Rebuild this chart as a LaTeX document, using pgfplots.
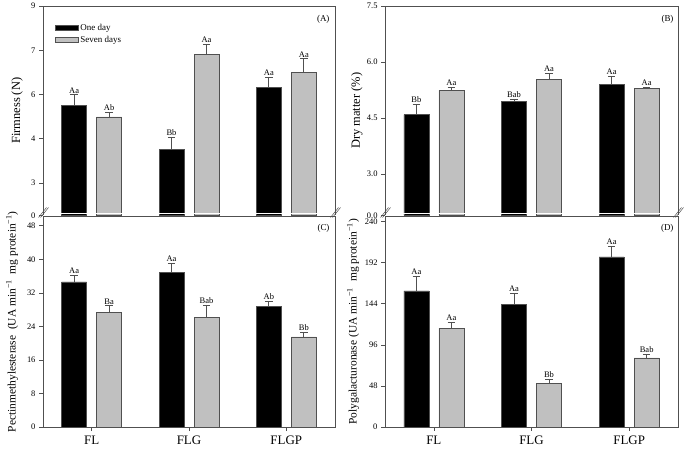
\documentclass[border=0pt]{standalone}
\usepackage{pgfplots}
\pgfplotsset{compat=1.18}
\usepackage{fontspec}
\setmainfont{Liberation Serif}
\definecolor{axgray}{RGB}{80,80,80}
\definecolor{bargray}{RGB}{192,192,192}
\pgfplotsset{
  panel/.style={
    scale only axis, xmin=-0.5, xmax=2.5, ybar,
    tick align=outside, ytick pos=left, xtick pos=bottom,
    axis line style={axgray, line width=0.8bp},
    major tick length=4bp,
    every tick/.style={axgray, line width=0.6bp},
    tick label style={font=\fontsize{8.5}{10}\selectfont},
    /pgf/number format/assume math mode=true,
    ylabel style={anchor=center},
  },
  top/.style={axis line style={draw=none}, xtick=\empty},
  bot/.style={xtick={0,1,2}, xticklabels={FL,FLG,FLGP},
    xticklabel style={font=\fontsize{13}{15}\selectfont, yshift=-1bp}},
  one/.style={fill=black, draw=axgray, line width=0.5bp, bar width=25bp, bar shift=-17.5bp,
    legend image code/.code={\draw[##1] (0bp,-2.3bp) rectangle (23bp,2.3bp);},
    error bars/.cd, y dir=plus, y explicit,
    error bar style={axgray, line width=0.7bp},
    error mark options={rotate=90, mark size=3.7bp, axgray, line width=0.7bp}},
  seven/.style={fill=bargray, draw=axgray, line width=0.5bp, bar width=25bp, bar shift=17.5bp,
    legend image code/.code={\draw[##1] (0bp,-2.3bp) rectangle (23bp,2.3bp);},
    error bars/.cd, y dir=plus, y explicit,
    error bar style={axgray, line width=0.7bp},
    error mark options={rotate=90, mark size=3.7bp, axgray, line width=0.7bp}},
  lab/.style={draw=none, fill=none, bar width=25bp, bar shift=#1,
    nodes near coords, point meta=explicit symbolic,
    nodes near coords style={font=\fontsize{8.5}{10}\selectfont, text=black, anchor=south, inner sep=1.5bp}},
}
\begin{document}
\begin{tikzpicture}
\useasboundingbox (0,0) rectangle (685bp,451bp);
% ---------------- Panel A ----------------
\begin{axis}[panel, top, name=A,
  at={(43bp,235.5bp)}, anchor=south west, width=292bp, height=209.5bp,
  ymin=1.898, ymax=9,
  ytick={1.898,3,4.5,6,7.5,9}, yticklabels={0,3,4,6,7,9},
  ylabel={Firmness (N)},
  ylabel style={at={(axis description cs:-0.089,0.5)}, font=\fontsize{12.5}{14}\selectfont},
  legend style={draw=none, fill=none, at={(axis description cs:0.03,0.935)}, anchor=north west,
    font=\fontsize{9}{10}\selectfont, row sep=0.5bp},
  legend cell align=left,
]
\addplot[one] table[x=x, y=y, y error=e] {
x y e
0 5.63 0.36
1 4.14 0.42
2 6.24 0.34
};
\addplot[seven] table[x=x, y=y, y error=e] {
x y e
0 5.24 0.14
1 7.36 0.34
2 6.76 0.45
};
\addplot[lab=-17.5bp] table[x=x, y=t, meta=l] {
x t l
0 5.99 Aa
1 4.56 Bb
2 6.58 Aa
};
\addplot[lab=17.5bp] table[x=x, y=t, meta=l] {
x t l
0 5.38 Ab
1 7.70 Aa
2 7.21 Aa
};
\legend{One day, Seven days}
\end{axis}
% ---------------- Panel B ----------------
\begin{axis}[panel, top, name=B,
  at={(385bp,235.5bp)}, anchor=south west, width=293bp, height=209.5bp,
  ymin=1.888, ymax=7.5,
  ytick={1.888,3,4.5,6,7.5}, yticklabels={0.0,3.0,4.5,6.0,7.5},
  ylabel={Dry matter (\%)},
  ylabel style={at={(axis description cs:-0.096,0.5)}, font=\fontsize{12.5}{14}\selectfont},
]
\addplot[one] table[x=x, y=y, y error=e] {
x y e
0 4.59 0.28
1 4.95 0.06
2 5.41 0.21
};
\addplot[seven] table[x=x, y=y, y error=e] {
x y e
0 5.24 0.08
1 5.54 0.16
2 5.29 0.02
};
\addplot[lab=-17.5bp] table[x=x, y=t, meta=l] {
x t l
0 4.87 Bb
1 5.01 Bab
2 5.62 Aa
};
\addplot[lab=17.5bp] table[x=x, y=t, meta=l] {
x t l
0 5.32 Aa
1 5.70 Aa
2 5.31 Aa
};
\end{axis}
% ---------------- Panel C ----------------
\begin{axis}[panel, bot, name=C,
  at={(43bp,24bp)}, anchor=south west, width=292bp, height=210.5bp,
  ymin=0, ymax=50.2,
  ytick={0,8,16,24,32,40,48},
  ylabel={Pectinmethylesterase \ (UA min\textsuperscript{−1} \ mg protein\textsuperscript{−1})},
  ylabel style={at={(axis description cs:-0.106,0.5)}, font=\fontsize{11.5}{13}\selectfont},
]
\addplot[one] table[x=x, y=y, y error=e] {
x y e
0 34.6 1.5
1 36.9 2.2
2 28.7 1.3
};
\addplot[seven] table[x=x, y=y, y error=e] {
x y e
0 27.4 1.5
1 26.2 2.9
2 21.5 1.1
};
\addplot[lab=-17.5bp] table[x=x, y=t, meta=l] {
x t l
0 36.1 Aa
1 39.1 Aa
2 30.0 Ab
};
\addplot[lab=17.5bp] table[x=x, y=t, meta=l] {
x t l
0 28.9 Ba
1 29.1 Bab
2 22.6 Bb
};
\end{axis}
% ---------------- Panel D ----------------
\begin{axis}[panel, bot, name=D,
  at={(385bp,24bp)}, anchor=south west, width=293bp, height=210.5bp,
  ymin=0, ymax=246,
  ytick={0,48,96,144,192,240},
  ylabel={Polygalacturonase (UA min\textsuperscript{−1} \ mg protein\textsuperscript{−1})},
  ylabel style={at={(axis description cs:-0.109,0.5)}, font=\fontsize{11.5}{13}\selectfont},
]
\addplot[one] table[x=x, y=y, y error=e] {
x y e
0 159.2 16.4
1 143.1 12.9
2 198.9 12.5
};
\addplot[seven] table[x=x, y=y, y error=e] {
x y e
0 115.5 7.0
1 50.7 5.5
2 80.7 4.3
};
\addplot[lab=-17.5bp] table[x=x, y=t, meta=l] {
x t l
0 175.6 Aa
1 156.0 Aa
2 211.4 Aa
};
\addplot[lab=17.5bp] table[x=x, y=t, meta=l] {
x t l
0 122.5 Aa
1 56.2 Bb
2 85.0 Bab
};
\end{axis}
% frames of the upper panels (no bottom line) and break marks
\foreach \P in {A,B}{
  \draw[white, line width=1bp] ([xshift=1bp,yshift=2bp]\P.south west) -- ([xshift=-1bp,yshift=2bp]\P.south east);
  \draw[axgray, line width=0.8bp] (\P.south west) -- (\P.north west) -- (\P.north east) -- (\P.south east);
  \foreach \c in {south west, south east}{
    \draw[axgray, line width=0.5bp] ([xshift=-4.5bp,yshift=-2bp]\P.\c) -- ([xshift=3.5bp,yshift=8bp]\P.\c);
    \draw[axgray, line width=0.5bp] ([xshift=-2.5bp,yshift=-2bp]\P.\c) -- ([xshift=5.5bp,yshift=8bp]\P.\c);
  }
}
\node[anchor=north east, font=\fontsize{9}{10}\selectfont] at ([xshift=-2bp,yshift=-6bp]A.north east) {(A)};
\node[anchor=north east, font=\fontsize{9}{10}\selectfont] at ([xshift=-1bp,yshift=-6bp]B.north east) {(B)};
\node[anchor=north east, font=\fontsize{9}{10}\selectfont] at ([xshift=-2bp,yshift=-4bp]C.north east) {(C)};
\node[anchor=north east, font=\fontsize{9}{10}\selectfont] at ([xshift=-1bp,yshift=-4bp]D.north east) {(D)};
\end{tikzpicture}
\end{document}
